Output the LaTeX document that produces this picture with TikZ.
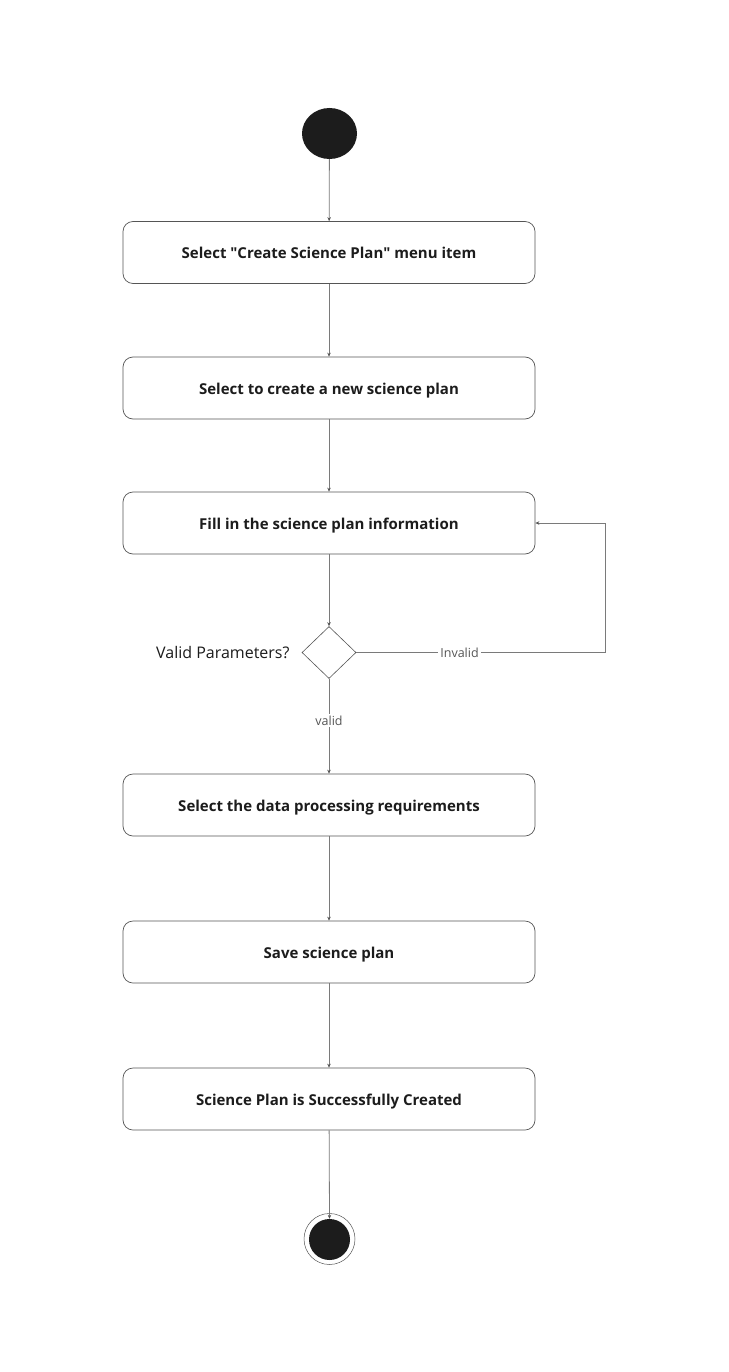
\documentclass[tikz,border=0pt]{standalone}
\usepackage{fontspec}
\setmainfont{Open Sans}
\usetikzlibrary{arrows.meta,shapes.geometric}
\definecolor{fillk}{HTML}{1C1C1C}
\definecolor{linek}{HTML}{7A7A7A}
\definecolor{edgek}{HTML}{555555}
\begin{document}
\begin{tikzpicture}[x=1pt,y=-1pt,
  actbox/.style={draw=edgek,line width=0.7pt,rounded corners=10pt,minimum width=412pt,minimum height=62pt,inner sep=0pt,text height=16pt,text depth=4pt,font=\fontsize{15}{18}\selectfont\bfseries,text=fillk},
  flow/.style={draw=linek,line width=0.8pt,-{Stealth[length=4pt,width=3.5pt,color=edgek]}},
  plain/.style={draw=linek,line width=0.8pt},
  lbl/.style={fill=white,inner sep=2pt,font=\fontsize{12.5}{15}\selectfont,text=edgek}]
\useasboundingbox (0,0) rectangle (728,1372);
\fill[white] (0,0) rectangle (728,1372);
\node[ellipse,fill=fillk,minimum width=55pt,minimum height=51pt,inner sep=0pt] (start) at (329.5,133.5) {};
\node[actbox] (b1) at (329,252.5) {Select \textquotedbl Create Science Plan\textquotedbl{} menu item};
\node[actbox] (b2) at (329,388) {Select to create a new science plan};
\node[actbox] (b3) at (329,523) {Fill in the science plan information};
\node[diamond,draw=edgek,line width=0.6pt,minimum width=54pt,minimum height=52pt,inner sep=0pt] (dec) at (329,652.5) {};
\node[anchor=east,font=\fontsize{16}{19}\selectfont,text=fillk] (q) at (293,653) {Valid Parameters?};
\node[actbox] (b4) at (329,805) {Select the data processing requirements};
\node[actbox] (b5) at (329,952) {Save science plan};
\node[actbox] (b6) at (329,1099) {Science Plan is Successfully Created};
\node[circle,draw=edgek,line width=0.5pt,minimum size=51pt,inner sep=0pt] (endo) at (329.5,1239) {};
\node[circle,fill=fillk,minimum size=41pt,inner sep=0pt] (endi) at (329.5,1239.5) {};
\coordinate (c1) at (605,652.5);
\coordinate (c2) at (605,523);
\draw[flow] (start) -- (b1);
\draw[flow] (b1) -- (b2);
\draw[flow] (b2) -- (b3);
\draw[flow] (b3) -- (dec);
\draw[flow] (dec) -- node[lbl,pos=0.44] (vl) {valid} (b4);
\draw[plain] (dec.east) -- node[lbl,pos=0.415] (il) {Invalid} (c1) -- (c2);
\draw[flow] (c2) -- (b3.east);
\draw[flow] (b4) -- (b5);
\draw[flow] (b5) -- (b6);
\draw[flow] (b6) -- (endi.north);
\end{tikzpicture}
\end{document}
